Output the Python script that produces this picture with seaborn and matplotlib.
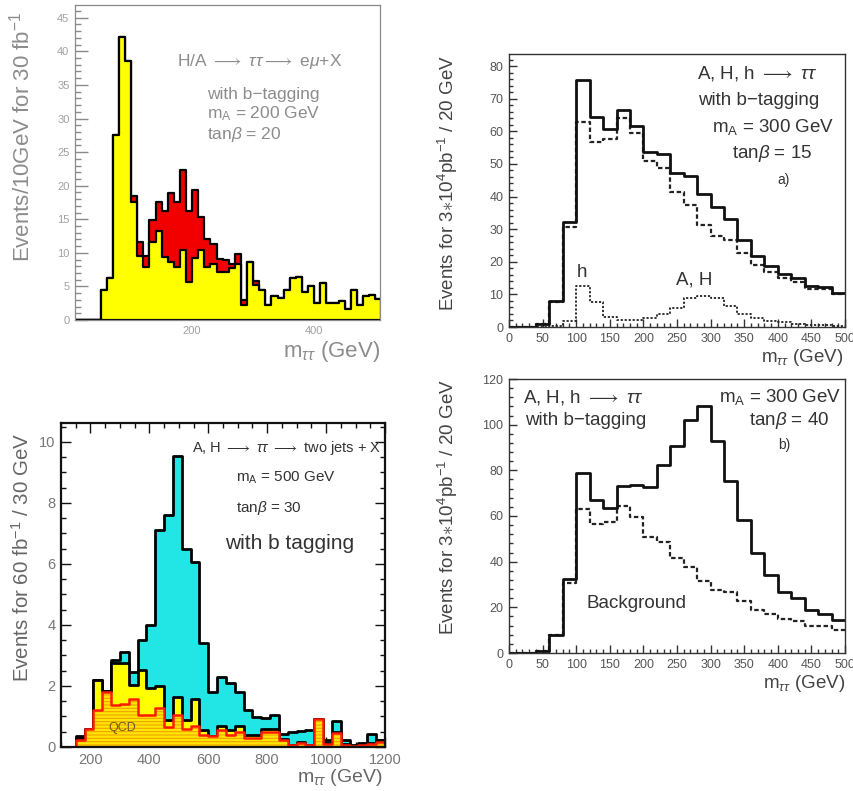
import numpy as np
import matplotlib
matplotlib.use("Agg")
import matplotlib.pyplot as plt
from matplotlib.ticker import MultipleLocator, FixedLocator
import seaborn as sns

sns.set_theme(style="white")
plt.rcParams["font.family"] = ["Liberation Sans", "DejaVu Sans"]
plt.rcParams["mathtext.fontset"] = "custom"
plt.rcParams["mathtext.rm"] = "Liberation Sans"
plt.rcParams["mathtext.it"] = "Liberation Sans:italic"
plt.rcParams["mathtext.bf"] = "Liberation Sans:bold"
plt.rcParams["hatch.linewidth"] = 0.8

# ---------------- H/A -> tau tau -> e mu + X  (10 GeV bins, 10..510 GeV) ----------------
emu_edges = np.arange(10, 520, 10)
emu_background = [0, 0, 0, 0,
                  4.4, 6.3, 27.6, 42.2, 38.5, 17.6, 9.6, 7.9, 11.6, 13.2,
                  9.4, 8.6, 7.9, 10.4, 5.6, 9.3, 10.4, 7.9, 8.4, 7.1,
                  7.1, 7.7, 8.4, 2.2, 8.6, 5.2, 4.5, 2.2, 3.5, 3.3,
                  4.5, 6.3, 6.4, 4.1, 5.0, 2.6, 5.5, 2.5, 2.6, 2.8,
                  1.7, 4.5, 2.2, 3.5, 3.7, 3.2]
emu_signal = [0, 0, 0, 0,
              0, 0, 0, 0, 0, 0.9, 2.0, 1.7, 3.3, 4.4,
              6.9, 10.3, 9.7, 11.9, 10.7, 10.0, 5.0, 4.1, 2.9, 2.0,
              1.8, 0.7, 1.5, 0.8, 0, 0.6, 0, 0, 0, 0,
              0, 0, 0, 0, 0, 0, 0, 0, 0, 0,
              0, 0, 0, 0, 0, 0]

# ---------------- A, H, h -> tau tau with b-tagging (20 GeV bins, 0..500 GeV) ----------------
mssm_edges = np.arange(0, 520, 20)
mssm_background = [0, 0, 1.0, 7.8, 30.6, 63.0, 56.7, 57.5, 64.2, 59.4, 51.0, 48.8, 41.4,
                   37.5, 31.4, 27.8, 26.7, 22.7, 19.0, 17.0, 14.9, 13.9, 11.8, 11.7, 10.0]
tan15_signal = [0, 0, 0, 0.3, 1.7, 12.7, 7.7, 3.1, 2.2, 2.2, 2.8, 4.1, 5.8,
                8.9, 9.4, 8.9, 6.3, 4.1, 2.7, 1.7, 1.4, 1.0, 0.7, 0.5, 0.4]
tan40_total = [0, 0, 1.0, 7.7, 32.6, 78.7, 67.2, 63.5, 73.3, 73.4, 72.7, 82.2, 90.8,
               102.2, 108.0, 93.0, 75.2, 58.1, 43.8, 34.3, 26.6, 24.0, 19.0, 17.1, 14.6]

# ---------------- A, H -> tau tau -> two jets + X (30 GeV bins, 90..1200 GeV) ----------------
jets_edges = np.arange(90, 1230, 30)
jets_total = [0, 0, 0.36, 0.6, 2.2, 1.85, 2.85, 3.12, 2.45, 3.5, 4.0, 7.12, 7.6,
              9.53, 6.48, 6.08, 3.42, 1.8, 2.29, 2.1, 1.8, 1.2, 0.99, 0.95, 1.05,
              0.44, 0.5, 0.52, 0.55, 0.92, 0.22, 0.85, 0.24, 0.05, 0.13, 0.44, 0.22]
jets_background = [0, 0, 0.3, 0.6, 2.2, 1.85, 2.74, 2.74, 2.03, 2.52, 1.95, 2.0, 0.88,
                   1.65, 0.88, 1.56, 0.55, 0.37, 0.68, 0.55, 0.68, 0.4, 0.4, 0.6, 0.6,
                   0.25, 0.08, 0.16, 0.06, 0.92, 0.12, 0.5, 0.1, 0.03, 0.1, 0.12, 0.22]
jets_qcd = [0, 0, 0.22, 0.6, 1.2, 1.8, 1.37, 1.42, 1.56, 1.05, 1.04, 1.27, 0.66,
            1.04, 0.6, 0.68, 0.4, 0.37, 0.55, 0.4, 0.5, 0.3, 0.3, 0.5, 0.5,
            0.22, 0.05, 0.13, 0.05, 0.92, 0.1, 0.45, 0.08, 0.03, 0.08, 0.1, 0.15]

W, H = 854, 791
fig = plt.figure(figsize=(W / 100, H / 100), dpi=100)


def panel(left, top, right, bottom):
    return fig.add_axes([left / W, 1 - bottom / H, (right - left) / W, (bottom - top) / H])


def centers(edges):
    return 0.5 * (edges[:-1] + edges[1:])


def hist_fill(ax, edges, heights, face, edge, lw, hatch=None):
    sns.histplot(x=centers(edges), weights=np.asarray(heights, float), bins=list(edges),
                 element="step", fill=True, facecolor=face, edgecolor=edge,
                 linewidth=lw, alpha=1, hatch=hatch, ax=ax)


def hist_line(ax, edges, heights, color, lw, ls="-"):
    sns.histplot(x=centers(edges), weights=np.asarray(heights, float), bins=list(edges),
                 element="step", fill=False, color=color, linewidth=lw,
                 linestyle=ls, ax=ax)


def frame(ax, color, lw, labelsize, labelcolor, maj_len, min_len, both=False):
    ax.set_xlabel("")
    ax.set_ylabel("")
    for s in ax.spines.values():
        s.set_color(color)
        s.set_linewidth(lw)
        s.set_visible(True)
        s.set_zorder(5)
    ax.tick_params(which="both", direction="in", color=color, bottom=True, left=True,
                   top=both, right=both, labelsize=labelsize, labelcolor=labelcolor,
                   width=1.0, zorder=6)
    ax.tick_params(which="major", length=maj_len, pad=4)
    ax.tick_params(which="minor", length=min_len)
    ax.set_facecolor("white")


# ======== top left ========
ax1 = panel(75, 5, 380, 320)
emu_total = np.add(emu_background, emu_signal)
hist_fill(ax1, emu_edges, emu_total, "#F20000", "black", 1.6)
hist_fill(ax1, emu_edges, emu_background, "#FFFF00", "black", 1.6)
ax1.set_xlim(8, 508)
ax1.set_ylim(0, 46.9)
frame(ax1, "#8A8A8A", 0.9, 8, "#A0A0A0", 9, 4.5)
ax1.xaxis.set_major_locator(FixedLocator([200, 400]))
ax1.xaxis.set_minor_locator(MultipleLocator(50))
ax1.yaxis.set_major_locator(MultipleLocator(5))
ax1.yaxis.set_minor_locator(MultipleLocator(1))
ax1.tick_params(axis="x", which="both", length=4)
gray = "#8C8C8C"
ax1.text(0.334, 0.822, r"H/A $\longrightarrow$ $\tau\tau$$\longrightarrow$ e$\mu$+X",
         transform=ax1.transAxes, fontsize=12.5, color=gray, va="center", ha="left")
ax1.text(0.433, 0.717, "with b\u2212tagging", transform=ax1.transAxes, fontsize=12.5,
         color=gray, va="center")
ax1.text(0.433, 0.654, r"m$_{\mathrm{A}}$ = 200 GeV", transform=ax1.transAxes, fontsize=12.5,
         color=gray, va="center")
ax1.text(0.433, 0.590, r"tan$\beta$ = 20", transform=ax1.transAxes, fontsize=12.5,
         color=gray, va="center")
fig.text(22 / W, 1 - 137 / H, r"Events/10GeV for 30 fb$^{-1}$", rotation=90,
         ha="center", va="center", fontsize=16, color=gray)
fig.text(380 / W, 1 - 352 / H, r"m$_{\tau\tau}$ (GeV)", ha="right", va="center",
         fontsize=16, color=gray)

# ======== top right ========
dark = "#333333"
ax2 = panel(509, 54, 845, 327)
hist_line(ax2, mssm_edges, tan15_signal, "#222222", 1.3, (0, (1.2, 1.0)))
hist_line(ax2, mssm_edges, mssm_background, "#222222", 1.6, (0, (2.0, 1.2)))
hist_line(ax2, mssm_edges, np.add(mssm_background, tan15_signal), "#111111", 2.0)
ax2.set_xlim(0, 500)
ax2.set_ylim(0, 83.7)
frame(ax2, "#333333", 1.0, 9, "#555555", 6, 3)
ax2.xaxis.set_major_locator(MultipleLocator(50))
ax2.xaxis.set_minor_locator(MultipleLocator(10))
ax2.yaxis.set_major_locator(MultipleLocator(10))
ax2.yaxis.set_minor_locator(MultipleLocator(2))
ax2.text(0.56, 0.93, r"A, H, h $\longrightarrow$ $\tau\tau$", transform=ax2.transAxes,
         fontsize=13.5, color=dark, va="center")
ax2.text(0.563, 0.828, "with b\u2212tagging", transform=ax2.transAxes, fontsize=13.5,
         color=dark, va="center")
ax2.text(0.604, 0.733, r"m$_{\mathrm{A}}$ = 300 GeV", transform=ax2.transAxes, fontsize=13.5,
         color=dark, va="center")
ax2.text(0.664, 0.637, r"tan$\beta$ = 15", transform=ax2.transAxes, fontsize=13.5,
         color=dark, va="center")
ax2.text(0.80, 0.538, "a)", transform=ax2.transAxes, fontsize=10, color=dark, va="center")
ax2.text(0.217, 0.198, "h", transform=ax2.transAxes, fontsize=13.5, color=dark,
         va="center", ha="center")
ax2.text(0.55, 0.172, "A, H", transform=ax2.transAxes, fontsize=13.5, color=dark,
         va="center", ha="center")
fig.text(448 / W, 1 - 183 / H, r"Events for 3$\ast$10$^{4}$pb$^{-1}$ / 20 GeV", rotation=90,
         ha="center", va="center", fontsize=13.5, color="#444444")
fig.text(843 / W, 1 - 357 / H, r"m$_{\tau\tau}$ (GeV)", ha="right", va="center",
         fontsize=13.5, color="#444444")

# ======== bottom left ========
ax3 = panel(61, 423, 385, 747)
hist_fill(ax3, jets_edges, jets_total, "#22E6E6", "black", 2.0)
hist_fill(ax3, jets_edges, jets_background, "#FFFF00", "black", 2.0)
hist_fill(ax3, jets_edges, jets_qcd, "#FFE600", "#F0A000", 0, hatch="-----")
hist_line(ax3, jets_edges, jets_qcd, "#FF1A00", 1.8)
ax3.set_xlim(100, 1200)
ax3.set_ylim(0, 10.62)
frame(ax3, "#111111", 1.6, 10.5, "#777777", 7, 3.5, both=True)
ax3.xaxis.set_major_locator(MultipleLocator(200))
ax3.xaxis.set_minor_locator(MultipleLocator(50))
ax3.yaxis.set_major_locator(MultipleLocator(2))
ax3.yaxis.set_minor_locator(MultipleLocator(0.5))
ax3.text(0.404, 0.923, r"A, H $\longrightarrow$ $\tau\tau$ $\longrightarrow$ two jets + X",
         transform=ax3.transAxes, fontsize=10.5, color=dark, va="center")
ax3.text(0.54, 0.83, r"m$_{\mathrm{A}}$ = 500 GeV", transform=ax3.transAxes, fontsize=11,
         color=dark, va="center")
ax3.text(0.54, 0.738, r"tan$\beta$ = 30", transform=ax3.transAxes, fontsize=11,
         color=dark, va="center")
ax3.text(0.506, 0.627, "with b tagging", transform=ax3.transAxes, fontsize=15,
         color=dark, va="center")
ax3.text(0.145, 0.059, "QCD", transform=ax3.transAxes, fontsize=9, color="#6B5A20",
         va="center")
fig.text(22 / W, 1 - 557 / H, r"Events for 60 fb$^{-1}$ / 30 GeV", rotation=90,
         ha="center", va="center", fontsize=14.8, color="#666666")
fig.text(382 / W, 1 - 777 / H, r"m$_{\tau\tau}$ (GeV)", ha="right", va="center",
         fontsize=14, color="#666666")

# ======== bottom right ========
ax4 = panel(509, 379, 845, 653)
hist_line(ax4, mssm_edges, mssm_background, "#222222", 1.6, (0, (2.0, 1.2)))
hist_line(ax4, mssm_edges, tan40_total, "#111111", 2.0)
ax4.set_xlim(0, 500)
ax4.set_ylim(0, 120)
frame(ax4, "#333333", 1.0, 9, "#555555", 6, 3)
ax4.xaxis.set_major_locator(MultipleLocator(50))
ax4.xaxis.set_minor_locator(MultipleLocator(10))
ax4.yaxis.set_major_locator(MultipleLocator(20))
ax4.yaxis.set_minor_locator(MultipleLocator(4))
ax4.text(0.042, 0.934, r"A, H, h $\longrightarrow$ $\tau\tau$", transform=ax4.transAxes,
         fontsize=13.5, color=dark, va="center")
ax4.text(0.048, 0.847, "with b\u2212tagging", transform=ax4.transAxes, fontsize=13.5,
         color=dark, va="center")
ax4.text(0.988, 0.934, r"m$_{\mathrm{A}}$ = 300 GeV", transform=ax4.transAxes, fontsize=13.5,
         color=dark, va="center", ha="right")
ax4.text(0.952, 0.847, r"tan$\beta$ = 40", transform=ax4.transAxes, fontsize=13.5,
         color=dark, va="center", ha="right")
ax4.text(0.80, 0.759, "b)", transform=ax4.transAxes, fontsize=10, color=dark, va="center")
ax4.text(0.232, 0.182, "Background", transform=ax4.transAxes, fontsize=13.5, color=dark,
         va="center")
fig.text(448 / W, 1 - 507 / H, r"Events for 3$\ast$10$^{4}$pb$^{-1}$ / 20 GeV", rotation=90,
         ha="center", va="center", fontsize=13.5, color="#444444")
fig.text(845 / W, 1 - 683 / H, r"m$_{\tau\tau}$ (GeV)", ha="right", va="center",
         fontsize=13.5, color="#444444")

fig.savefig("out.png", dpi=100)
